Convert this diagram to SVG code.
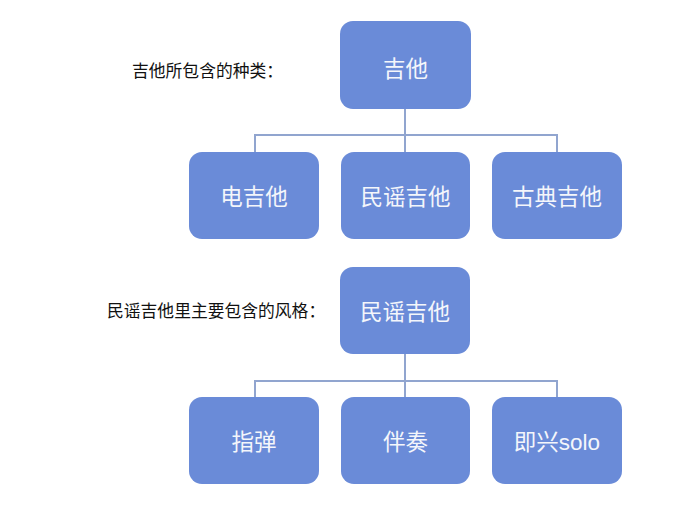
<svg xmlns="http://www.w3.org/2000/svg" width="684" height="511" viewBox="0 0 684 511">
<style>
.box{fill:#6a8bd8;}
.bt{font-family:"Noto Sans CJK SC","Liberation Sans",sans-serif;font-size:22.5px;fill:#f4f6fb;text-anchor:middle;}
.lt{font-family:"Noto Sans CJK SC","Liberation Sans",sans-serif;font-size:16.8px;fill:#111;}
.c{fill:none;stroke:#91a5cf;stroke-width:2;}
</style>
<rect width="684" height="511" fill="#ffffff"/>
<text class="lt" x="132" y="77">吉他所包含的种类：</text>
<text class="lt" x="107" y="317">民谣吉他里主要包含的风格：</text>
<g id="connectors">
<path class="c" d="M405,109 V135 M255,152 V135 H557 V152 M405,135 V152"/>
<path class="c" d="M405,354 V381 M255,397 V381 H557 V397 M405,381 V397"/>
</g>
<g id="n-guitar"><rect class="box" x="340" y="21" width="131" height="88" rx="13"/><text class="bt" x="405.5" y="77">吉他</text></g>
<g id="n-electric"><rect class="box" x="189" y="152" width="130" height="87" rx="13"/><text class="bt" x="254" y="205">电吉他</text></g>
<g id="n-folk"><rect class="box" x="341" y="152" width="129" height="87" rx="13"/><text class="bt" x="405.5" y="205">民谣吉他</text></g>
<g id="n-classical"><rect class="box" x="492" y="152" width="130" height="87" rx="13"/><text class="bt" x="557" y="205">古典吉他</text></g>
<g id="n-folk2"><rect class="box" x="340" y="267" width="130" height="87" rx="13"/><text class="bt" x="405" y="320">民谣吉他</text></g>
<g id="n-finger"><rect class="box" x="189" y="397" width="130" height="87" rx="13"/><text class="bt" x="254" y="450">指弹</text></g>
<g id="n-accomp"><rect class="box" x="341" y="397" width="129" height="87" rx="13"/><text class="bt" x="405.5" y="450">伴奏</text></g>
<g id="n-solo"><rect class="box" x="492" y="397" width="130" height="87" rx="13"/><text class="bt" x="557" y="450">即兴<tspan font-family="Liberation Sans">solo</tspan></text></g>
</svg>
